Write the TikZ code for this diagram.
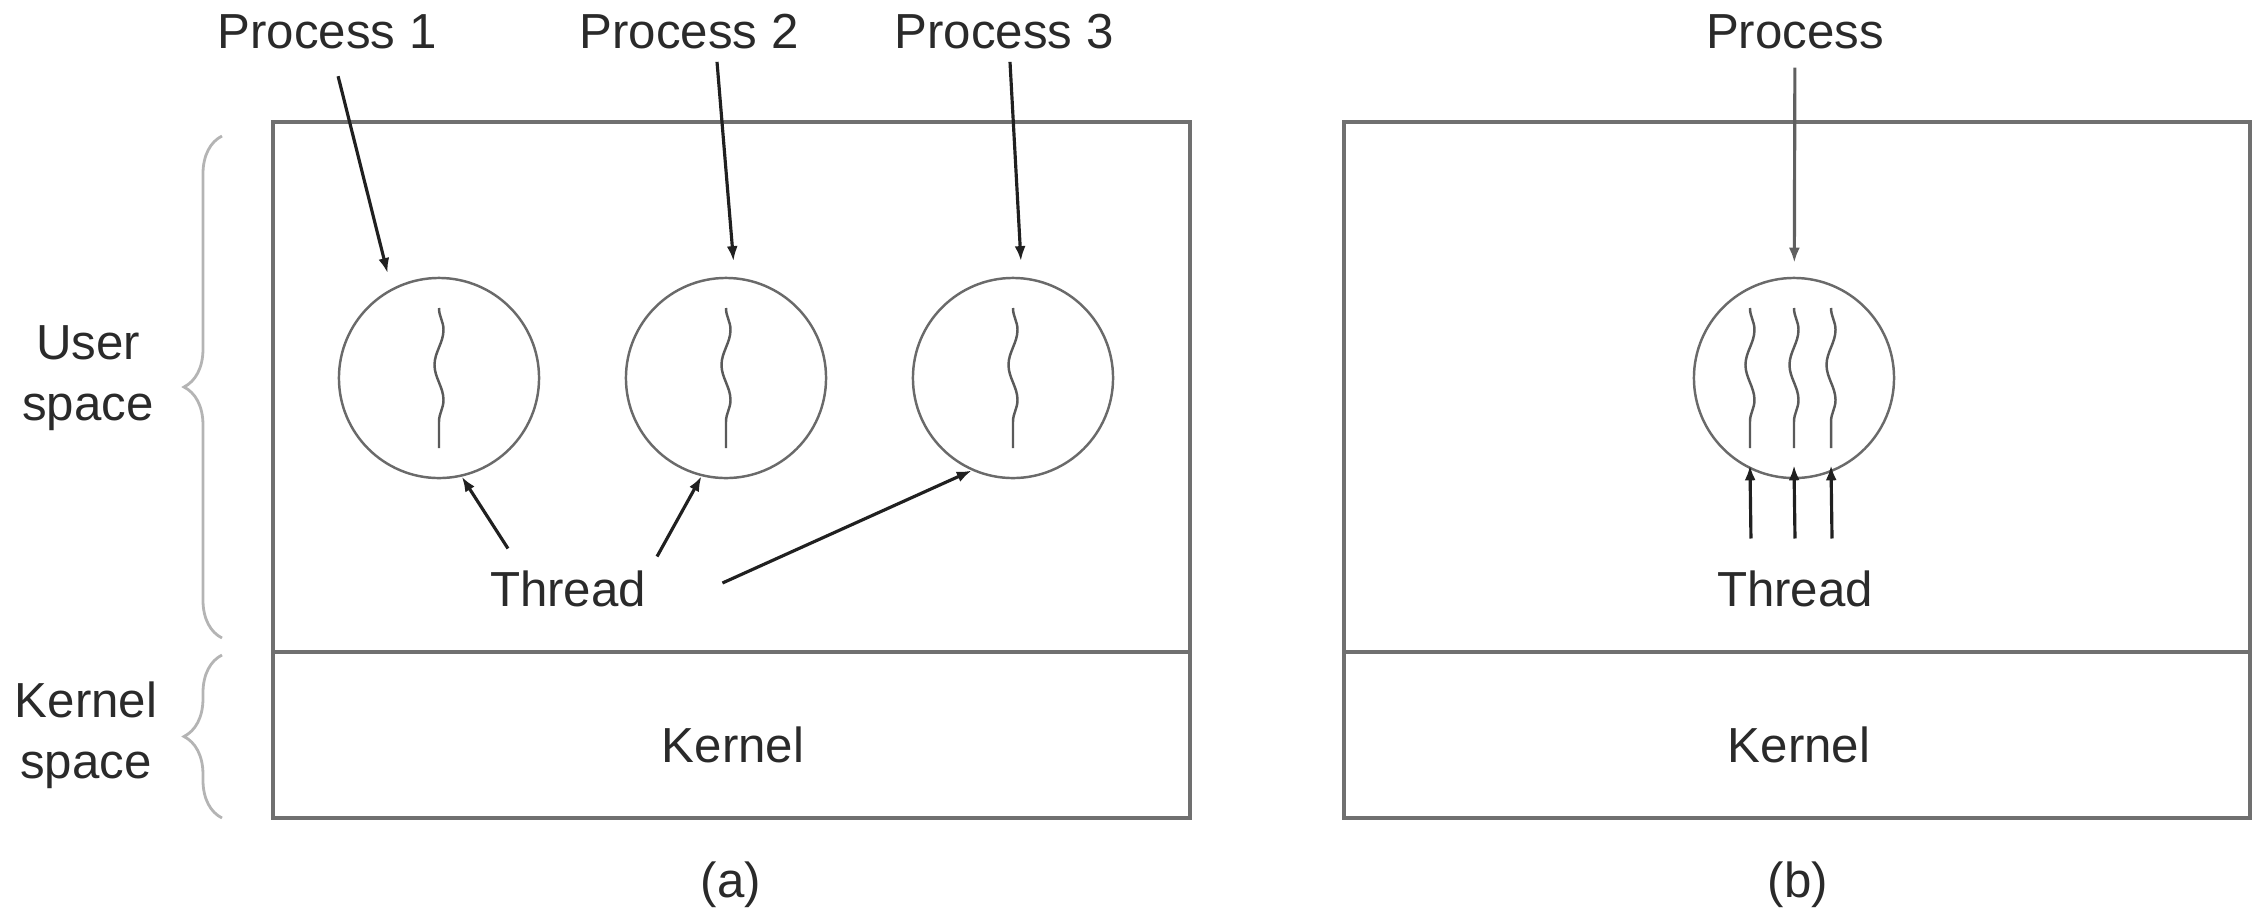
\documentclass[tikz,border=0pt]{standalone}
\usepackage{fontspec}
\setmainfont{Liberation Sans}
\usetikzlibrary{arrows.meta,decorations.pathreplacing,decorations.pathmorphing}
\definecolor{framegray}{HTML}{707070}
\definecolor{circgray}{HTML}{6A6A6A}
\definecolor{arrgray}{HTML}{202020}
\definecolor{bracegray}{HTML}{B4B4B4}
\definecolor{txtgray}{HTML}{2A2A2A}

\begin{document}
\begin{tikzpicture}[x=0.01cm,y=-0.01cm,
    frame/.style={draw=framegray,line width=1.3pt},
    lbl/.style={text=txtgray,font=\fontsize{14}{17.4}\selectfont,align=center},
    proc/.style={circle,draw=circgray,line width=0.7pt,minimum size=2cm,inner sep=0pt},
    thr/.style={draw=circgray!85!black,line width=0.7pt,decorate,decoration={snake,amplitude=0.045cm,segment length=0.7cm}},
    arr/.style={draw=arrgray,line width=0.9pt,-{Latex[length=0.15cm,width=0.11cm]}},
    brc/.style={draw=bracegray,line width=0.8pt,decorate,decoration={brace,amplitude=0.38cm}}]
    \useasboundingbox (0,0) rectangle (2265,908);
    \begin{scope}
        \draw[frame] (273,122) rectangle (1190,818);
        \draw[frame] (273,652) -- (1190,652);
        \node[proc] (c1) at (439,378) {};
        \node[proc] (c2) at (726,378) {};
        \node[proc] (c3) at (1013,378) {};
        \foreach \c in {c1,c2,c3}
            \draw[thr] (\c.center) ++(0,-70) -- ++(0,140);
        \node[lbl] (p1) at (327,32) {Process 1};
        \node[lbl] (p2) at (689,32) {Process 2};
        \node[lbl] (p3) at (1004,32) {Process 3};
        \node[lbl] (t1) at (568,589) {Thread};
        \node[lbl] (k1) at (733,745) {Kernel};
        \node[lbl] (capa) at (731,885) {(a)};
        \node[lbl] (us) at (88,378) {User\\space};
        \node[lbl] (ks) at (86,735) {Kernel\\space};
        \draw[brc] (222,638) -- (222,136);
        \draw[brc] (222,818) -- (222,655);
        \draw[arr,shorten <=0.15cm,shorten >=0.16cm] (p1) -- (c1.118);
        \draw[arr,shorten >=0.16cm] ([xshift=0.28cm]p2.south) -- (c2.85);
        \draw[arr,shorten >=0.16cm] ([xshift=0.06cm]p3.south) -- (c3.85);
        \draw[arr] ([xshift=-0.6cm,yshift=0.1cm]t1.north) -- (c1.-77);
        \draw[arr] ([xshift=0.89cm,yshift=0.02cm]t1.north) -- (c2.-104);
        \draw[arr] ([xshift=0.64cm,yshift=0.06cm]t1.east) -- (c3.-114);
    \end{scope}
    \begin{scope}
        \draw[frame] (1344,122) rectangle (2250,818);
        \draw[frame] (1344,652) -- (2250,652);
        \node[proc] (c4) at (1794,378) {};
        \foreach \dx in {-0.44,0,0.37}
            \draw[thr] ([xshift=\dx cm]c4.center) ++(0,-70) -- ++(0,140);
        \node[lbl] (p4) at (1795,32) {Process};
        \node[lbl] (t4) at (1795,589) {Thread};
        \node[lbl] (k2) at (1799,745) {Kernel};
        \node[lbl] (capb) at (1798,885) {(b)};
        \draw[arr,draw=gray!75!black,shorten <=0.06cm,shorten >=0.14cm] (p4) -- (c4);
        \foreach \dx in {-0.44,0,0.37}
            \draw[arr] ([xshift=\dx cm,yshift=0.2cm]t4.north) -- ([xshift=\dx cm,yshift=0.14cm]c4.south);
    \end{scope}
\end{tikzpicture}
\end{document}
